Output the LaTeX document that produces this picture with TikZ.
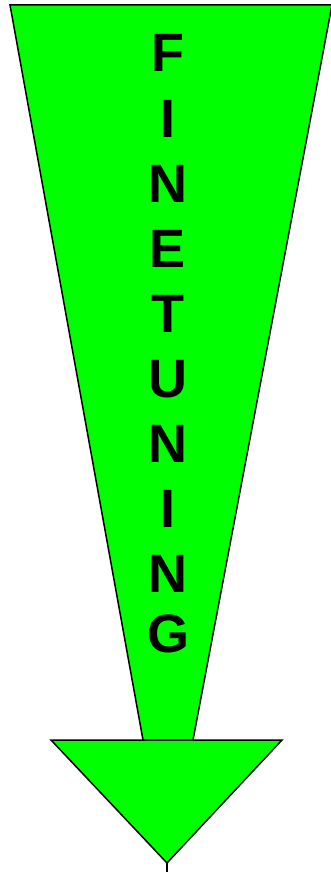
\documentclass[tikz,border=0pt]{standalone}
\usepackage{fontspec}
\setmainfont{Liberation Sans}
\definecolor{arrowgreen}{RGB}{0,255,0}
\begin{document}
\begin{tikzpicture}[x=1pt,y=-1pt,
  shapeline/.style={draw=black,line width=1.5pt,fill=arrowgreen,line join=miter},
  letter/.style={anchor=base,inner sep=0pt,font=\fontsize{54}{54}\selectfont\bfseries,text=black}]
\useasboundingbox (0,0) rectangle (330,872);
% shaft
\draw[shapeline] (10,5) -- (332,5) -- (193,740) -- (143,740) -- cycle;
% arrow head
\draw[shapeline] (51,740) -- (282,740) -- (167,863) -- cycle;
\coordinate (tip) at (167,863);
\coordinate (tail) at (167,874);
\draw[line width=1.5pt] (tip) -- (tail);
% letters
\node[letter] (l1) at (168,72) {F};
\node[letter] (l2) at (168,137) {I};
\node[letter] (l3) at (168,202) {N};
\node[letter] (l4) at (168,267) {E};
\node[letter] (l5) at (168,332) {T};
\node[letter] (l6) at (168,397) {U};
\node[letter] (l7) at (168,462) {N};
\node[letter] (l8) at (168,527) {I};
\node[letter] (l9) at (168,592) {N};
\node[letter] (l10) at (168,652) {G};
\end{tikzpicture}
\end{document}
